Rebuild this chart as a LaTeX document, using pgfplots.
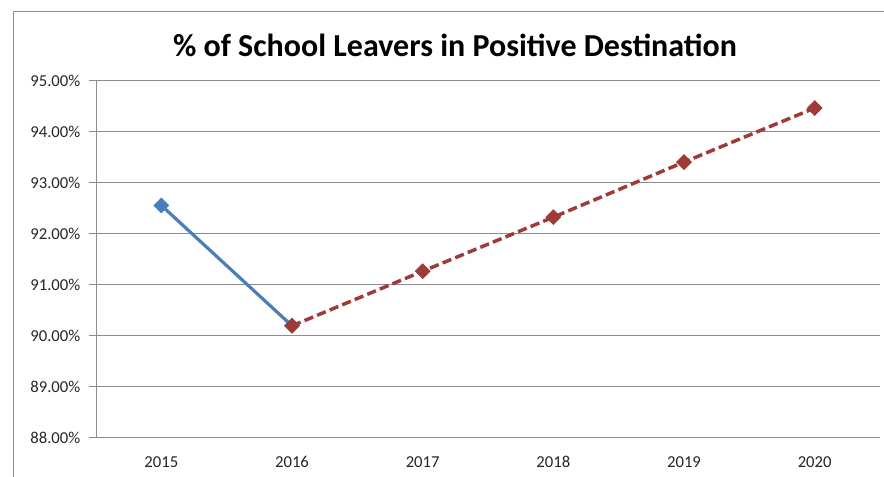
\documentclass[border=0pt]{standalone}
\usepackage{pgfplots}
\pgfplotsset{compat=1.18}
\usepackage{fontspec}
\setmainfont{Carlito}
\definecolor{serblue}{HTML}{4A7EBB}
\definecolor{serred}{HTML}{9E3A38}
\definecolor{gridgray}{HTML}{8C8C8C}
\begin{document}
\begin{tikzpicture}[x=0.75pt,y=0.75pt]
\useasboundingbox (0,0) rectangle (884,477);
\begin{scope}
\clip (0,0) rectangle (884,477);
\draw[gridgray,line width=0.75pt] (13,-10) -- (13,465) -- (900,465);
\end{scope}
\node[font=\bfseries\fontsize{24}{28}\selectfont] at (455,432) {\% of School Leavers in Positive Destination};
\begin{axis}[
  at={(96*0.75pt,39*0.75pt)}, anchor=south west,
  scale only axis, width=588pt, height=267.75pt,
  xmin=0.5, xmax=6.5, ymin=88, ymax=95,
  axis lines=left, axis line style={-, gridgray, line width=0.75pt},
  xtick={1,2,3,4,5,6},
  xticklabels={2015,2016,2017,2018,2019,2020},
  major x tick style={draw=none},
  extra x ticks={0.5,1.5,2.5,3.5,4.5,5.5,6.5},
  extra x tick labels={},
  extra x tick style={tick style={draw=gridgray, line width=0.75pt}, major tick length=5.25pt, tick align=outside, grid=none},
  ytick={88,89,...,95},
  ymajorgrids, grid style={gridgray, line width=0.75pt},
  y tick style={draw=gridgray, line width=0.75pt},
  major tick length=5.25pt, tick align=outside,
  yticklabel={\pgfmathprintnumber[fixed,fixed zerofill,precision=2]{\tick}\%},
  /pgf/number format/assume math mode=true,
  tick label style={font=\fontsize{12.5}{14}\selectfont, text=black!85},
  xticklabel style={yshift=-5pt},
  yticklabel style={xshift=-3pt},
  clip=false,
]
\addplot[serblue, line width=2.4pt, mark=square*, mark size=3pt, mark options={solid, rotate=45, fill=serblue}]
  coordinates {(1,92.56) (2,90.20)};
\addplot[serred, line width=2.6pt, dash pattern=on 7pt off 3.2pt, mark=square*, mark size=2.9pt, mark options={solid, rotate=45, fill=serred}]
  coordinates {(2,90.20) (3,91.27) (4,92.33) (5,93.41) (6,94.47)};
\end{axis}
\end{tikzpicture}
\end{document}
